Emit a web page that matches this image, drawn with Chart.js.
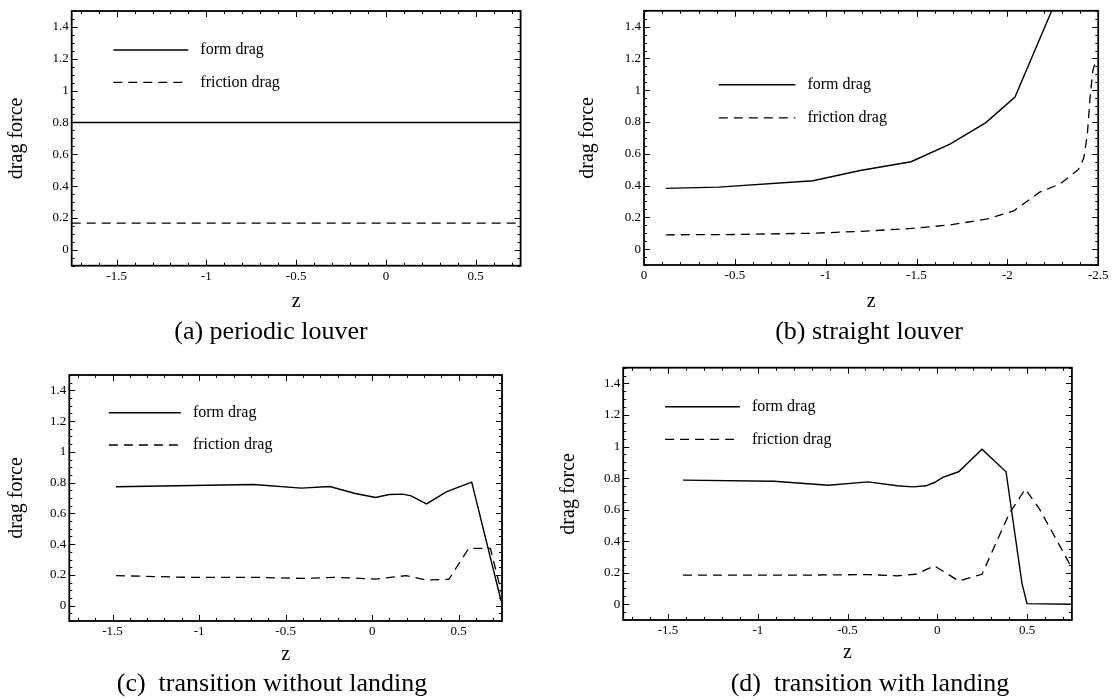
<!DOCTYPE html>
<html>
<head>
<meta charset="utf-8">
<script src="https://cdn.jsdelivr.net/npm/chart.js@4.4.0/dist/chart.umd.min.js"></script>
<style>
  body { margin: 0; background: #fff; }
  #wrap { position: relative; width: 1112px; height: 700px; overflow: hidden; background: #fff; }
  canvas { position: absolute; }
  .cap { position: absolute; font-family: "Liberation Serif", serif; font-size: 26px; line-height: 30px;
         color: #000; white-space: pre; transform: translateX(-50%); }
</style>
</head>
<body>
<div id="wrap">
  <canvas id="chartA" width="556" height="318" style="left:0;top:0"></canvas>
  <canvas id="chartB" width="556" height="318" style="left:556px;top:0"></canvas>
  <canvas id="chartC" width="556" height="320" style="left:0;top:350px"></canvas>
  <canvas id="chartD" width="556" height="320" style="left:556px;top:350px"></canvas>
  <div class="cap" style="left:271px;top:316px">(a) periodic louver</div>
  <div class="cap" style="left:869px;top:316px">(b) straight louver</div>
  <div class="cap" style="left:272px;top:668px">(c)  transition without landing</div>
  <div class="cap" style="left:870px;top:668px">(d)  transition with landing</div>
</div>
<script>
// series labels
const seriesNames = ['form drag', 'friction drag'];

// tick labels
const yTicks = [0, 0.2, 0.4, 0.6, 0.8, 1, 1.2, 1.4];
const zTicks = [-1.5, -1, -0.5, 0, 0.5];
const zTicksB = [0, -0.5, -1, -1.5, -2, -2.5];

// (a) periodic louver
const zA = [-1.75, -1.5, -1.25, -1, -0.75, -0.5, -0.25, 0, 0.25, 0.5, 0.75];
const formA = [0.8, 0.8, 0.8, 0.8, 0.8, 0.8, 0.8, 0.8, 0.8, 0.8, 0.8];
const fricA = [0.167, 0.167, 0.167, 0.167, 0.167, 0.167, 0.167, 0.167, 0.167, 0.167, 0.167];

// (b) straight louver
const zBform = [-0.12, -0.41, -0.93, -1.19, -1.47, -1.684, -1.882, -2.042, -2.244];
const formB = [0.382, 0.39, 0.43, 0.495, 0.55, 0.661, 0.796, 0.957, 1.5];
const zBfric = [-0.12, -0.5, -0.93, -1.2, -1.47, -1.684, -1.89, -2.035, -2.18, -2.29, -2.39, -2.42, -2.44, -2.455, -2.47, -2.49];
const fricB = [0.09, 0.092, 0.1, 0.112, 0.13, 0.152, 0.19, 0.241, 0.36, 0.41, 0.5, 0.57, 0.72, 0.95, 1.12, 1.2];

// (c) transition without landing
const zCform = [-1.48, -0.686, -0.41, -0.245, -0.098, 0.02, 0.098, 0.176, 0.225, 0.314, 0.431, 0.575, 0.745];
const formC = [0.773, 0.788, 0.764, 0.775, 0.729, 0.703, 0.723, 0.725, 0.714, 0.662, 0.742, 0.803, 0.03];
const zCfric = [-1.48, -1.06, -0.686, -0.39, -0.216, 0.02, 0.196, 0.309, 0.443, 0.558, 0.683, 0.748];
const fricC = [0.195, 0.184, 0.184, 0.177, 0.184, 0.173, 0.195, 0.167, 0.171, 0.373, 0.373, 0.08];

// (d) transition with landing
const zDform = [-1.417, -0.911, -0.607, -0.385, -0.223, -0.136, -0.062, -0.016, 0.031, 0.119, 0.249, 0.383, 0.472, 0.5, 0.745];
const formD = [0.787, 0.78, 0.755, 0.776, 0.751, 0.744, 0.751, 0.772, 0.804, 0.84, 0.983, 0.84, 0.131, 0.004, 0.0];
const zDfric = [-1.417, -0.79, -0.385, -0.223, -0.12, -0.016, 0.119, 0.249, 0.401, 0.49, 0.568, 0.745];
const fricD = [0.184, 0.184, 0.188, 0.18, 0.19, 0.243, 0.148, 0.19, 0.575, 0.73, 0.607, 0.24];

// tick mark spacing
const yMajor = 0.2, yMinor = 0.05;
const xMajor = 0.5, xMinor = 0.1;

const FONT = 'Liberation Serif';
Chart.defaults.font.family = FONT;
Chart.defaults.color = '#000';

const pts = (xs, ys) => xs.map((v, i) => ({ x: v, y: ys[i] }));
const fmt = v => String(Math.round(v * 100) / 100);

// inward ticks on all four sides plus the frame
const boxTicks = {
  id: 'boxTicks',
  afterDatasetsDraw(chart) {
    const { ctx, chartArea: a, scales } = chart;
    ctx.save();
    ctx.strokeStyle = '#000';
    ctx.lineWidth = 1;
    const mark = (scale, step, len) => {
      const lo = Math.min(scale.min, scale.max), hi = Math.max(scale.min, scale.max);
      ctx.beginPath();
      for (let k = Math.ceil(lo / step - 1e-6); k <= Math.floor(hi / step + 1e-6); k++) {
        const p = Math.round(scale.getPixelForValue(k * step)) + 0.5;
        if (scale.isHorizontal()) {
          ctx.moveTo(p, a.bottom); ctx.lineTo(p, a.bottom - len);
          ctx.moveTo(p, a.top); ctx.lineTo(p, a.top + len);
        } else {
          ctx.moveTo(a.left, p); ctx.lineTo(a.left + len, p);
          ctx.moveTo(a.right, p); ctx.lineTo(a.right - len, p);
        }
      }
      ctx.stroke();
    };
    mark(scales.x, xMajor, 6);
    mark(scales.x, xMinor, 3);
    mark(scales.y, yMajor, 6);
    mark(scales.y, yMinor, 3);
    ctx.lineWidth = 1.8;
    ctx.strokeRect(a.left, a.top, a.width, a.height);
    ctx.restore();
  }
};

// legend drawn inside the plot, upper left
const innerLegend = {
  id: 'innerLegend',
  afterDatasetsDraw(chart, args, o) {
    const { ctx, chartArea: a } = chart;
    chart.data.datasets.forEach((ds, i) => {
      const y = a.top + o.dy + i * o.gap;
      const x0 = a.left + o.dx;
      ctx.save();
      ctx.strokeStyle = ds.borderColor;
      ctx.lineWidth = ds.borderWidth;
      ctx.setLineDash(ds.borderDash || []);
      ctx.beginPath();
      ctx.moveTo(x0, y);
      ctx.lineTo(x0 + o.len, y);
      ctx.stroke();
      ctx.setLineDash([]);
      ctx.fillStyle = '#000';
      ctx.font = '16px "' + FONT + '"';
      ctx.textBaseline = 'middle';
      ctx.fillText(ds.label, x0 + o.len + 12, y);
      ctx.restore();
    });
  }
};

const charts = [];

function makePanel(id, cv, box, xr, xt, form, fric, leg, pad) {
  const datasets = [
    { label: seriesNames[0], data: form, borderColor: '#000', borderWidth: 1.4, pointRadius: 0, tension: 0 },
    { label: seriesNames[1], data: fric, borderColor: '#000', borderWidth: 1.3, borderDash: [9, 6], pointRadius: 0, tension: 0 }
  ];
  charts.push(new Chart(document.getElementById(id), {
    type: 'line',
    data: { datasets },
    plugins: [boxTicks, innerLegend],
    options: {
      responsive: false,
      animation: false,
      devicePixelRatio: 1,
      layout: { padding: { left: 0, top: box.t - cv.top, right: cv.left + cv.w - box.r, bottom: 0 } },
      plugins: {
        legend: { display: false },
        tooltip: { enabled: false },
        innerLegend: leg
      },
      scales: {
        x: {
          type: 'linear', min: xr.min, max: xr.max, reverse: !!xr.reverse,
          afterBuildTicks: s => { s.ticks = xt.map(v => ({ value: v })); },
          afterFit: s => { s.height = cv.top + cv.h - box.b; },
          grid: { display: false, drawTicks: false },
          border: { display: false },
          ticks: { padding: 3, autoSkip: false, maxRotation: 0, font: { size: 13 }, callback: fmt },
          title: { display: true, text: 'z', font: { size: 20 }, padding: pad.x }
        },
        y: {
          type: 'linear', min: -0.1, max: 1.5,
          afterBuildTicks: s => { s.ticks = yTicks.map(v => ({ value: v })); },
          afterFit: s => { s.width = box.l - cv.left; },
          grid: { display: false, drawTicks: false },
          border: { display: false },
          ticks: { padding: 3, autoSkip: false, font: { size: 13 }, callback: fmt },
          title: { display: true, text: 'drag force', font: { size: 20 }, padding: pad.y }
        }
      }
    }
  }));
}

makePanel('chartA', { left: 0, top: 0, w: 556, h: 318 }, { l: 71.7, t: 11, r: 520.6, b: 265.7 },
  { min: -1.75, max: 0.75 }, zTicks, pts(zA, formA), pts(zA, fricA),
  { dx: 41.6, dy: 39, gap: 32.3, len: 75 }, { x: 4, y: 5 });

makePanel('chartB', { left: 556, top: 0, w: 556, h: 318 }, { l: 644, t: 9, r: 1098.2, b: 265 },
  { min: -2.5, max: 0, reverse: true }, zTicksB, pts(zBform, formB), pts(zBfric, fricB),
  { dx: 74.8, dy: 74, gap: 33, len: 76.6 }, { x: 4, y: 19.4 });

makePanel('chartC', { left: 0, top: 350, w: 556, h: 320 }, { l: 69.3, t: 375, r: 502, b: 621 },
  { min: -1.75, max: 0.75 }, zTicks, pts(zCform, formC), pts(zCfric, fricC),
  { dx: 39.6, dy: 37.7, gap: 32.3, len: 72 }, { x: 3, y: 5 });

makePanel('chartD', { left: 556, top: 350, w: 556, h: 320 }, { l: 623.2, t: 367.7, r: 1071.9, b: 620 },
  { min: -1.75, max: 0.75 }, zTicks, pts(zDform, formD), pts(zDfric, fricD),
  { dx: 41.9, dy: 39, gap: 32.6, len: 74.8 }, { x: 5, y: 1.2 });

if (document.fonts && document.fonts.ready) {
  document.fonts.ready.then(() => charts.forEach(c => c.update()));
}
</script>
</body>
</html>
